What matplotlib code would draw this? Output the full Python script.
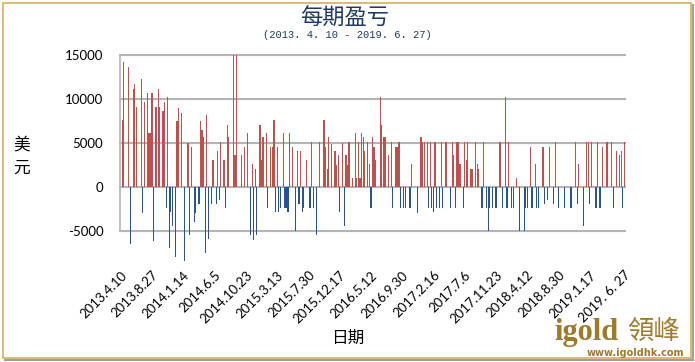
import matplotlib.pyplot as plt
from matplotlib.patches import Rectangle
import numpy as np

plt.rcParams['font.family'] = ['Noto Sans CJK SC', 'DejaVu Sans']

# 每期盈亏 (美元), one value per trading period
pnl = [
    0, 7660, 14230, 0, 0, 13650, -6460, 0, 11150, 11730, 9120, 0,
    0, 12270, -2900, 9700, 0, 10660, 6120, 6120, 10660, -6080, 9120,
    9120, 11150, 9120, 0, 8650, 9700, -2420, 10200, -6960, -2800, -4400, 0,
    -8000, 7540, 9000, 0, 8460, 0, -8400, 0, 5000, -5500, 4500,
    0, -3960, -3000, 0, -1930, 7540, 6480, 5650, -7470, 8150, -5960, 0,
    -1960, 3040, 0, -1960, 4110, -1460, 5080, 0, 3040, -2420, 7080,
    5650, 0, 0, 16000, 3600, 16000, 0, 0, 3600, 0, 4580, 0,
    6120, 0, -5500, 2580, -6000, 2000, -5500, 0, 7080, 3040, 5650,
    0, 6120, -2420, 0, 4580, 4580, 7660, -2800, 4580, -2800, -2420, 0,
    6120, -2420, -2420, -2800, 6120, 0, 4580, 0, -5000, 4110, -1960,
    4110, -2800, -2420, 0, 3040, 0, -2420, 5080, -2420, 0, -5500, 0,
    5080, 0, 0, 7660, 4580, 2080, 5650, 0, 4880, 0, 4110,
    2500, 3600, -2800, 0, 5040, -4460, 3600, 2500, 5080, 0, 1040, 0,
    6120, 1040, 5080, 1040, 6120, 5650, 4110, 0, 5080, 2580, -2420,
    5650, 4580, 3040, 0, 0, 10190, 7080, 5650, 5650, 0, 3600, 0,
    5080, -2420, 0, 4580, 4580, 5080, -2420, 0, -2420, -2420, 0,
    0, -2420, 2580, 0, 0, 0, -2900, 0, 5650, 5080, 5080, 0,
    5080, -2420, 5080, -2420, -2800, 5080, -2420, 0, -2420, 5080, -2420,
    0, 5080, 0, 0, -2420, 5080, 3600, -2420, 5080, 5080, 2580, 0,
    -2420, 5080, 3040, 5080, 0, 2080, 2080, 0, 5080, 2580, 2080,
    0, -2420, 5080, 0, -2420, -5000, -2420, 0, -2420, 0, -2420, 0,
    5080, 5080, -2420, 0, 10190, -2420, 5080, 0, -2420, -2420, 0,
    1040, 0, -5000, 0, 0, -5000, -2420, -2420, 0, 4580, -2420, 0,
    2580, -2420, -2420, 0, 0, 4580, -1960, 0, -1500, 4580, 0,
    0, -1960, 5080, 0, -2420, 0, 0, 0, -2420, 0, 0, 0,
    -2420, 0, 0, 5080, -1960, 2580, 0, 0, -4460, 0, 5080,
    5080, -1960, 5080, 0, 0, -2420, 5080, -2420, -2420, 4580, 0, 0,
    5080, 0, 0, 5080, -2420, 0, 4110, 0, 3600, 4110, -2420,
    5080,
]

tick_idx = [0, 20, 40, 60, 80, 100, 120, 140, 160, 180, 200, 220, 240, 260, 280, 300, 322]
tick_dates = ['2013.4.10', '2013.8.27', '2014.1.14', '2014.6.5', '2014.10.23',
              '2015.3.13', '2015.7.30', '2015.12.17', '2016.5.12', '2016.9.30',
              '2017.2.16', '2017.7.6', '2017.11.23', '2018.4.12', '2018.8.30',
              '2019.1.17', '2019. 6. 27']
y_ticks = [-5000, 0, 5000, 10000, 15000]

W, H = 695, 362
fig = plt.figure(figsize=(W / 100, H / 100), dpi=100)
fig.patch.set_facecolor('white')

def fx(px):
    return px / W

def fy(py):
    return 1 - py / H

# plot area: x 120..625 px, 15000 at y=55, 5000 per 44 px
ax = fig.add_axes([fx(120), fy(266.2), fx(625) - fx(120), fy(55) - fy(266.2)])

vals = np.array(pnl)
x = np.arange(len(vals))
colors = np.where(vals >= 0, '#C0504D', '#2A5490')
ax.bar(x, vals, width=0.75, color=colors, linewidth=0, zorder=3)

ax.set_xlim(-0.5, len(vals) - 0.5)
ax.set_ylim(-9000, 15000)
for s in ax.spines.values():
    s.set_visible(False)
for yv in y_ticks:
    ax.axhline(yv, color='#B5B5B5', lw=1.5, zorder=1, clip_on=False)
ax.plot([-0.5, -0.5], [-5000, 15000], color='#B5B5B5', lw=1.2, zorder=1, clip_on=False)

ax.set_yticks(y_ticks)
ax.set_yticklabels([str(v) for v in y_ticks], family='Lato', fontsize=9.5)
ax.tick_params(axis='y', length=0, pad=12)
ax.set_xticks(tick_idx)
ax.set_xticklabels(tick_dates, family='Lato', fontsize=9.5, rotation=45,
                   ha='right', va='top', rotation_mode='anchor')
ax.tick_params(axis='x', length=0, pad=2)

# titles and axis names
fig.text(fx(345), fy(18), '每期盈亏', fontsize=16, color='#1F3864', ha='center', va='center')
fig.text(fx(347), fy(35), '(2013. 4. 10 - 2019. 6. 27)', family='Liberation Mono',
         fontsize=7.5, color='#1F3864', ha='center', va='center')
fig.text(fx(22), fy(157), '美\n元', fontsize=12, ha='center', va='center', linespacing=1.5)
fig.text(fx(348), fy(338), '日期', fontsize=12, ha='center', va='center')

# logo
gold = '#A07A2C'
fig.text(fx(554), fy(340), 'igold', family='Liberation Serif', fontweight='bold',
         fontsize=22, color=gold, ha='left', va='baseline')
fig.text(fx(654), fy(331), '領峰', family=['Noto Sans CJK TC', 'DejaVu Sans'],
         fontsize=19, color=gold, ha='center', va='center')
fig.text(fx(635), fy(353.5), 'www.igoldhk.com', family='DejaVu Sans', fontweight='bold',
         fontsize=7, color=gold, ha='center', va='center')

# frame with shadow
fig.add_artist(Rectangle((fx(2.5), fy(358)), fx(691) - fx(2.5), fy(2.5) - fy(358),
                         transform=fig.transFigure, fill=False, edgecolor='#DDB46A', lw=1.3))
fig.add_artist(plt.Line2D([fx(693), fx(693)], [fy(360), fy(5)], transform=fig.transFigure,
                          color='#A0A0A0', lw=1.5))
fig.add_artist(plt.Line2D([fx(5), fx(693)], [fy(360), fy(360)], transform=fig.transFigure,
                          color='#A0A0A0', lw=1.5))

fig.savefig('out.png', dpi=100)
